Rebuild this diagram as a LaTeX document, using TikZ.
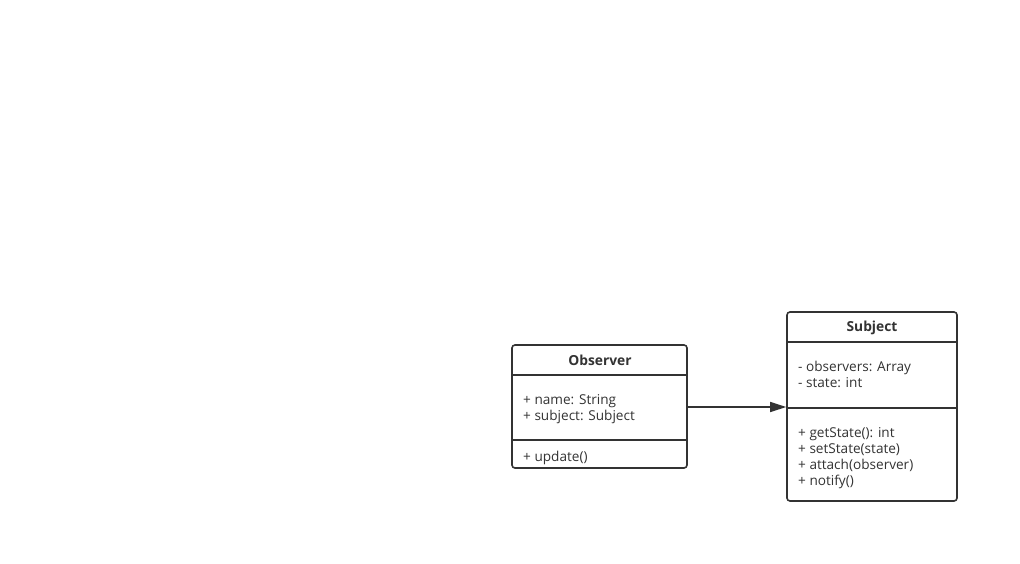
\documentclass[tikz,border=0pt]{standalone}
\usepackage{fontspec}
\setmainfont{Open Sans}
\usetikzlibrary{arrows.meta}
\definecolor{ink}{HTML}{333333}
\tikzset{
  umlbox/.style={draw=ink, line width=1.6pt, rounded corners=3pt},
  divider/.style={draw=ink, line width=1.6pt},
  title/.style={font=\fontsize{13.8}{16}\selectfont\bfseries, text=ink, inner sep=0pt},
  member/.style={font=\fontsize{13.6}{16}\selectfont, text=ink, inner sep=0pt, anchor=west, align=left},
  assoc/.style={draw=ink, line width=1.4pt, -{Triangle[length=16pt,width=10pt]}}
}
\begin{document}
\begin{tikzpicture}[x=1pt,y=-1pt]
\useasboundingbox[fill=white] (0,0) rectangle (1020,563);
% Observer
\node[umlbox, minimum width=175pt, minimum height=123pt, inner sep=0pt] (obs) at (599.5,406.5) {};
\coordinate (o1l) at (512,375); \coordinate (o1r) at (687,375);
\coordinate (o2l) at (512,440); \coordinate (o2r) at (687,440);
\draw[divider] (o1l) -- (o1r);
\draw[divider] (o2l) -- (o2r);
\node[title] (obstitle) at (600,360.5) {Observer};
\node[member] (obsattr) at (523,409) {+ name: String\\+ subject: Subject};
\node[member] (obsop) at (523,457.5) {+ update()};
% Subject
\node[umlbox, minimum width=170pt, minimum height=189pt, inner sep=0pt] (subj) at (872,406.5) {};
\coordinate (s1l) at (787,342); \coordinate (s1r) at (957,342);
\coordinate (s2l) at (787,408); \coordinate (s2r) at (957,408);
\draw[divider] (s1l) -- (s1r);
\draw[divider] (s2l) -- (s2r);
\node[title] (subjtitle) at (872,327.5) {Subject};
\node[member] (subjattr) at (798,374.5) {- observers: Array\\- state: int};
\node[member] (subjop) at (798,458) {+ getState(): int\\+ setState(state)\\+ attach(observer)\\+ notify()};
% association
\draw[assoc] (obs.east |- 0,407) -- (subj.west |- 0,407);
\end{tikzpicture}
\end{document}
